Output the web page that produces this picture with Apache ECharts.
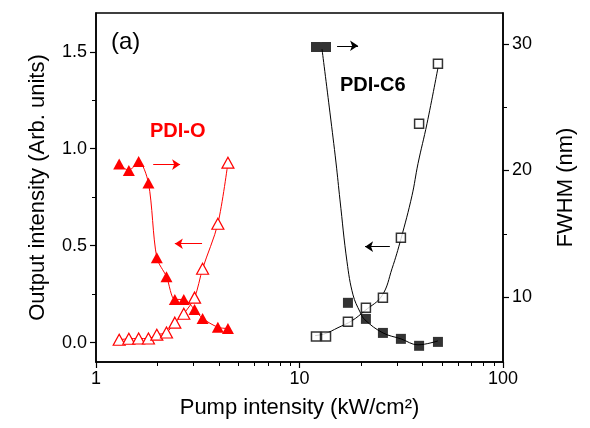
<!DOCTYPE html>
<html>
<head>
<meta charset="utf-8">
<script src="https://cdn.jsdelivr.net/npm/echarts@6/dist/echarts.min.js"></script>
<style>
html,body{margin:0;padding:0;background:#fff;}
#chart{width:590px;height:428px;}
</style>
</head>
<body>
<div id="chart"></div>
<script>
// ---- data ----
const pumpO = [1.30, 1.45, 1.62, 1.81, 1.99, 2.22, 2.44, 2.70, 3.05, 3.34, 3.97, 4.45];
const intensityO = [0.015, 0.020, 0.021, 0.021, 0.041, 0.052, 0.103, 0.149, 0.232, 0.381, 0.613, 0.928];
const fwhmO = [20.5, 20.0, 20.7, 19.0, 13.1, 11.6, 9.8, 9.8, 9.0, 8.3, 7.6, 7.5];

const pumpC6 = [12.05, 13.5, 17.3, 21.2, 25.7, 31.5, 38.7, 47.9];
const intensityC6 = [0.031, 0.031, 0.108, 0.180, 0.232, 0.541, 1.129, 1.438];
const fwhmC6 = [29.76, 29.76, 9.53, 8.26, 7.15, 6.68, 6.13, 6.44];

// fitted curves
const fitIntX = [11.92, 13.35, 15.46, 18.11, 20.98, 25.43, 28.48, 31.53, 35.71, 38.22, 42.31, 47.93];
const fitIntY = [0.036, 0.046, 0.077, 0.113, 0.165, 0.242, 0.381, 0.536, 0.758, 0.923, 1.129, 1.418];
const fitFwhmX = [12.9, 14.12, 15.12, 15.81, 17.12, 18.32, 19.83, 20.98, 25.72, 31.53, 38.22, 47.93];
const fitFwhmY = [29.6, 24.55, 20.59, 17.67, 12.77, 10.16, 8.81, 8.18, 7.15, 6.68, 6.21, 6.52];

// ticks
const xMajorTicks = [1, 10, 100];
const xMinorTicks = [2, 3, 4, 5, 6, 7, 8, 9, 20, 30, 40, 50, 60, 70, 80, 90];
const yLeftMajor = [0, 0.5, 1.0, 1.5];
const yLeftMinor = [0.25, 0.75, 1.25];
const yRightMajor = [10, 20, 30];
const yRightMinor = [15, 25];

// annotation arrows (data coordinates on left axis)
const arrowsRed = [[[1.91, 0.918], [2.59, 0.918]], [[3.32, 0.510], [2.44, 0.510]]];
const arrowsBlack = [[[15.3, 1.531], [19.4, 1.531]], [[27.8, 0.495], [21.0, 0.495]]];

const FONT = "'Liberation Sans', Arial, sans-serif";
const zip = (a, b) => a.map((v, i) => [v, b[i]]);

const chart = echarts.init(document.getElementById('chart'), null, {renderer: 'canvas'});

function arrowLines(list) {
  return list.map(p => [{coord: p[0]}, {coord: p[1]}]);
}

const axisLineStyle = {color: '#000', width: 1.5};
const labelStyle = {color: '#000', fontSize: 18, fontFamily: FONT};

const option = {
  animation: false,
  backgroundColor: '#fff',
  grid: {left: 96, right: 87, top: 13, bottom: 66, show: true, borderColor: '#000', borderWidth: 1.5, containLabel: false},
  xAxis: [
    {
      type: 'log', logBase: 10, min: 1, max: 100, position: 'bottom',
      name: 'Pump intensity (kW/cm²)', nameLocation: 'middle', nameGap: 35,
      nameTextStyle: {color: '#000', fontSize: 22, fontFamily: FONT},
      axisLine: {show: true, onZero: false, lineStyle: axisLineStyle},
      axisTick: {show: true, inside: false, length: 6, lineStyle: {color: '#000', width: 1.2}, customValues: xMajorTicks},
      axisLabel: Object.assign({margin: 8, customValues: xMajorTicks}, labelStyle),
      splitLine: {show: false}, minorTick: {show: false}
    }
  ],
  yAxis: [
    {
      type: 'value', min: -0.1, max: 1.7, position: 'left',
      name: 'Output intensity (Arb. units)', nameLocation: 'middle', nameGap: 47, nameRotate: 90,
      nameTextStyle: {color: '#000', fontSize: 22, fontFamily: FONT},
      axisLine: {show: true, onZero: false, lineStyle: axisLineStyle},
      axisTick: {show: true, inside: false, length: 6, lineStyle: {color: '#000', width: 1.2}, customValues: yLeftMajor},
      axisLabel: Object.assign({margin: 9, customValues: yLeftMajor, formatter: v => Number(v).toFixed(1)}, labelStyle),
      splitLine: {show: false}
    },
    {
      type: 'value', min: 4.85, max: 32.45, position: 'right', alignTicks: false,
      name: 'FWHM (nm)', nameLocation: 'middle', nameGap: 52, nameRotate: 90,
      nameTextStyle: {color: '#000', fontSize: 22, fontFamily: FONT},
      axisLine: {show: true, onZero: false, lineStyle: axisLineStyle},
      axisTick: {show: true, inside: false, length: 6, lineStyle: {color: '#000', width: 1.2}, customValues: yRightMajor},
      axisLabel: Object.assign({margin: 9, customValues: yRightMajor}, labelStyle),
      splitLine: {show: false}
    }
  ],
  series: [
    {
      name: 'fit C6 intensity', type: 'line', xAxisIndex: 0, yAxisIndex: 0,
      data: zip(fitIntX, fitIntY), smooth: 0.4, showSymbol: false, symbol: 'none',
      lineStyle: {color: '#000', width: 1}, z: 2, silent: true
    },
    {
      name: 'fit C6 FWHM', type: 'line', xAxisIndex: 0, yAxisIndex: 1,
      data: zip(fitFwhmX, fitFwhmY), smooth: 0.4, showSymbol: false, symbol: 'none',
      lineStyle: {color: '#000', width: 1}, z: 2, silent: true
    },
    {
      name: 'PDI-C6 intensity', type: 'scatter', xAxisIndex: 0, yAxisIndex: 0,
      data: zip(pumpC6, intensityC6), symbol: 'rect', symbolSize: 9,
      itemStyle: {color: '#fff', borderColor: '#000', borderWidth: 1.5}, z: 4,
      markLine: {
        silent: true, symbol: ['none', 'arrow'], symbolSize: 8, precision: 4,
        label: {show: false}, lineStyle: {color: '#000', width: 1, type: 'solid'},
        data: arrowLines(arrowsBlack)
      }
    },
    {
      name: 'PDI-C6 FWHM', type: 'scatter', xAxisIndex: 0, yAxisIndex: 1,
      data: zip(pumpC6, fwhmC6), symbol: 'rect', symbolSize: 10,
      itemStyle: {color: '#000'}, z: 5
    },
    {
      name: 'PDI-O intensity', type: 'line', xAxisIndex: 0, yAxisIndex: 0,
      data: zip(pumpO, intensityO), smooth: 0.3, symbol: 'triangle', symbolSize: [12, 11], showAllSymbol: true,
      lineStyle: {color: '#ff0000', width: 1}, itemStyle: {color: '#fff', borderColor: '#ff0000', borderWidth: 1.2}, z: 4,
      markLine: {
        silent: true, symbol: ['none', 'arrow'], symbolSize: 8, precision: 4,
        label: {show: false}, lineStyle: {color: '#ff0000', width: 1, type: 'solid'},
        itemStyle: {color: '#ff0000'},
        data: arrowLines(arrowsRed)
      }
    },
    {
      name: 'PDI-O FWHM', type: 'line', xAxisIndex: 0, yAxisIndex: 1,
      data: zip(pumpO, fwhmO), smooth: 0.3, symbol: 'triangle', symbolSize: [12, 11], showAllSymbol: true,
      lineStyle: {color: '#ff0000', width: 1}, itemStyle: {color: '#ff0000', borderColor: '#ff0000', borderWidth: 0}, z: 5
    }
  ]
};

chart.setOption(option);

// minor ticks placed through the chart's own scales
const px = v => chart.convertToPixel({xAxisIndex: 0}, v);
const pyL = v => chart.convertToPixel({yAxisIndex: 0}, v);
const pyR = v => chart.convertToPixel({yAxisIndex: 1}, v);
const gLeft = px(1), gRight = px(100), gBottom = pyL(-0.1);
const crisp = v => Math.round(v) + 0.5;
const tickStyle = {stroke: '#000', lineWidth: 1};
const MINOR = 4;
const graphics = [];
xMinorTicks.forEach(v => {
  const x = crisp(px(v));
  graphics.push({type: 'line', silent: true, z: 10, shape: {x1: x, y1: gBottom, x2: x, y2: gBottom + MINOR}, style: tickStyle});
});
yLeftMinor.forEach(v => {
  const y = crisp(pyL(v));
  graphics.push({type: 'line', silent: true, z: 10, shape: {x1: gLeft - MINOR, y1: y, x2: gLeft, y2: y}, style: tickStyle});
});
yRightMinor.forEach(v => {
  const y = crisp(pyR(v));
  graphics.push({type: 'line', silent: true, z: 10, shape: {x1: gRight, y1: y, x2: gRight + MINOR, y2: y}, style: tickStyle});
});
graphics.push(
  {type: 'text', left: 111, top: 30, style: {text: '(a)', fill: '#000', font: '24px ' + FONT}},
  {type: 'text', left: 150, top: 121, style: {text: 'PDI-O', fill: '#ff0000', font: 'bold 20px ' + FONT}},
  {type: 'text', left: 340, top: 75, style: {text: 'PDI-C6', fill: '#000', font: 'bold 20px ' + FONT}}
);
chart.setOption({graphic: graphics});
</script>
</body>
</html>
